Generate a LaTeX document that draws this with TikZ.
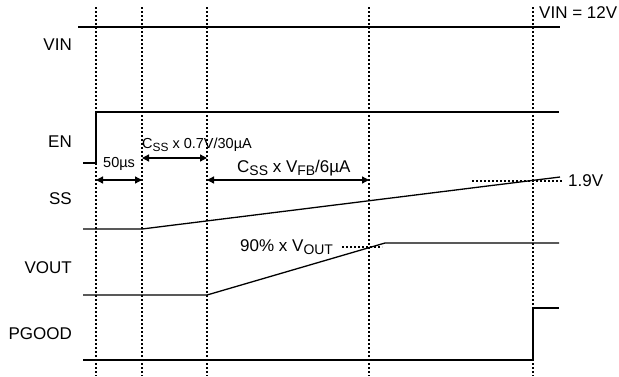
\documentclass[tikz,border=0pt]{standalone}
\usepackage{fontspec}
\setmainfont{Liberation Sans}
\usepackage{graphicx}
\usetikzlibrary{arrows.meta}
\newcommand\lowsub[1]{\raisebox{-0.22em}{\scalebox{0.82}{#1}}}
\begin{document}
\begin{tikzpicture}[x=1pt,y=-1pt,
  sig/.style={line width=1.3pt},
  gridline/.style={line width=1.2pt,dash pattern=on 2pt off 2pt},
  dim/.style={line width=1.3pt,{Triangle[length=7pt,width=7pt]}-{Triangle[length=7pt,width=7pt]}},
  lbl/.style={anchor=east,inner sep=0pt,font=\fontsize{17}{20}\selectfont},
  txt/.style={anchor=west,inner sep=0pt,font=\fontsize{17}{20}\selectfont},
  smalltxt/.style={anchor=west,inner sep=0pt,font=\fontsize{14.5}{17}\selectfont}]
\useasboundingbox (0,0) rectangle (619,376);
% vertical timing guides
\foreach \x/\n in {96/a,142/b,207/c,369/d,533/e}{
  \coordinate (t\n) at (\x,7);
  \coordinate (b\n) at (\x,376);
  \draw[gridline] (t\n) -- (b\n);
}
% signal labels
\node[lbl] (lvin) at (72,45) {VIN};
\node[lbl] (len) at (72,142) {EN};
\node[lbl] (lss) at (72,199) {SS};
\node[lbl] (lvout) at (72,268) {VOUT};
\node[lbl] (lpg) at (72,334) {PGOOD};
\node[txt] (vinv) at (539,13) {VIN = 12V};
% VIN
\coordinate (vin0) at (78,27); \coordinate (vin1) at (560,27);
\draw[sig] (vin0) -- (vin1);
% EN
\coordinate (en0) at (83,163); \coordinate (en1) at (96,163);
\coordinate (en2) at (96,112); \coordinate (en3) at (559,112);
\draw[sig] (en0) -- (en1) -- (en2) -- (en3);
% SS
\coordinate (ss0) at (83,229); \coordinate (ss1) at (142,229);
\coordinate (ss2) at (560,177);
\draw[sig] (ss0) -- (ss1) -- (ss2);
\coordinate (h0) at (472,181); \coordinate (h1) at (563,181);
\draw[gridline] (h0) -- (h1);
\node[txt] (v19) at (568,181) {1.9V};
% VOUT
\coordinate (vo0) at (83,295); \coordinate (vo1) at (207,295);
\coordinate (vo2) at (385,243); \coordinate (vo3) at (559,243);
\draw[sig] (vo0) -- (vo1) -- (vo2) -- (vo3);
\coordinate (p0) at (342,247); \coordinate (p1) at (382,247);
\draw[gridline] (p0) -- (p1);
\node[txt] (p90) at (240,247) {90\% x V\lowsub{OUT}};
% PGOOD
\coordinate (pg0) at (83,360); \coordinate (pg1) at (533,360);
\coordinate (pg2) at (533,308); \coordinate (pg3) at (559,308);
\draw[sig] (pg0) -- (pg1) -- (pg2) -- (pg3);
% dimension arrows
\coordinate (d1a) at (96,180); \coordinate (d1b) at (142,180);
\draw[dim] (d1a) -- (d1b);
\node[smalltxt] (t50) at (103,164) {50µs};
\coordinate (d2a) at (142,158); \coordinate (d2b) at (207,158);
\draw[dim] (d2a) -- (d2b);
\node[smalltxt] (t07) at (142,145) {C\lowsub{SS} x 0.7V/30µA};
\coordinate (d3a) at (207,180); \coordinate (d3b) at (369,180);
\draw[dim] (d3a) -- (d3b);
\node[txt] (tfb) at (237,168) {C\lowsub{SS} x V\lowsub{FB}/6µA};
\end{tikzpicture}
\end{document}
